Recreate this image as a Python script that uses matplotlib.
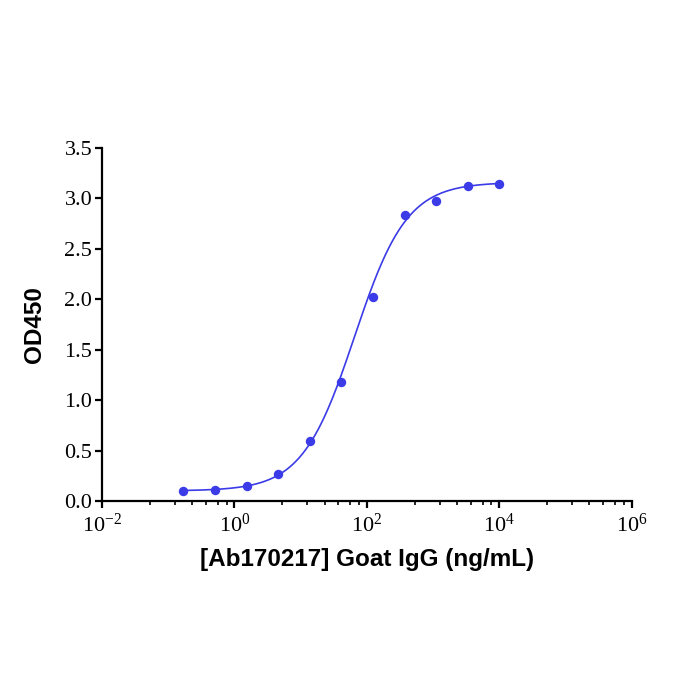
import numpy as np
import matplotlib
matplotlib.use("Agg")
import matplotlib.pyplot as plt
from matplotlib.ticker import FixedLocator, FixedFormatter

# Data (concentration in ng/mL, OD450)
conc = [0.169, 0.508, 1.52, 4.57, 13.7, 41.2, 123.5, 370.4, 1111, 3333, 10000]
od450 = [0.10, 0.11, 0.15, 0.27, 0.59, 1.18, 2.02, 2.84, 2.97, 3.12, 3.14]

# 4PL fit parameters of the curve
BOTTOM, TOP, EC50, HILL = 0.10, 3.16, 65.0, 1.1

x_major = [1e-2, 1e0, 1e2, 1e4, 1e6]
x_major_labels = [r'$\mathregular{10^{-2}}$', r'$\mathregular{10^{0}}$', r'$\mathregular{10^{2}}$',
                  r'$\mathregular{10^{4}}$', r'$\mathregular{10^{6}}$']
y_ticks = [0.0, 0.5, 1.0, 1.5, 2.0, 2.5, 3.0, 3.5]
minor_frac = [0.36, 0.55, 0.68, 0.785, 0.875, 0.94]

plt.rcParams['mathtext.fontset'] = 'custom'
plt.rcParams['mathtext.rm'] = 'Liberation Serif'
plt.rcParams['mathtext.it'] = 'Liberation Serif:italic'

color = '#3b3be8'

fig = plt.figure(figsize=(7, 7), dpi=100)
ax = fig.add_axes([0.1457, 0.2843, 0.757, 0.5043])

ax.scatter(conc, od450, s=46, color=color, zorder=3, linewidths=0)
xs = np.logspace(np.log10(conc[0]), np.log10(conc[-1]), 300)
ys = BOTTOM + (TOP - BOTTOM) / (1 + (EC50 / xs) ** HILL)
ax.plot(xs, ys, color=color, lw=1.2)

ax.set_xscale('log')
ax.set_xlim(1e-2, 1e6)
ax.set_ylim(0, 3.5)

ax.xaxis.set_major_locator(FixedLocator(x_major))
ax.xaxis.set_major_formatter(FixedFormatter(x_major_labels))
minors = []
for lo in [-2, 0, 2, 4]:
    for f in minor_frac:
        minors.append(10 ** (lo + 2 * f))
ax.xaxis.set_minor_locator(FixedLocator(minors))
ax.xaxis.set_minor_formatter(FixedFormatter([''] * len(minors)))

ax.set_yticks(y_ticks)
ax.set_yticklabels([f'{v:.1f}' for v in y_ticks])

for s in ['top', 'right']:
    ax.spines[s].set_visible(False)
for s in ['left', 'bottom']:
    ax.spines[s].set_linewidth(1.6)
    ax.spines[s].set_color('black')

ax.tick_params(axis='both', which='major', direction='out', length=5, width=1.6,
               labelsize=16, pad=2)
ax.tick_params(axis='x', which='major', pad=4)
ax.tick_params(axis='x', which='minor', direction='out', length=3, width=1.2)
for lab in ax.get_xticklabels() + ax.get_yticklabels():
    lab.set_fontfamily('Liberation Serif')

ax.set_xlabel('[Ab170217] Goat IgG (ng/mL)', fontsize=17.5, fontweight='bold',
              fontfamily='Liberation Sans', labelpad=8)
ax.set_ylabel('OD450', fontsize=17.5, fontweight='bold',
              fontfamily='Liberation Sans', labelpad=13)

fig.savefig('out.png', dpi=100)
